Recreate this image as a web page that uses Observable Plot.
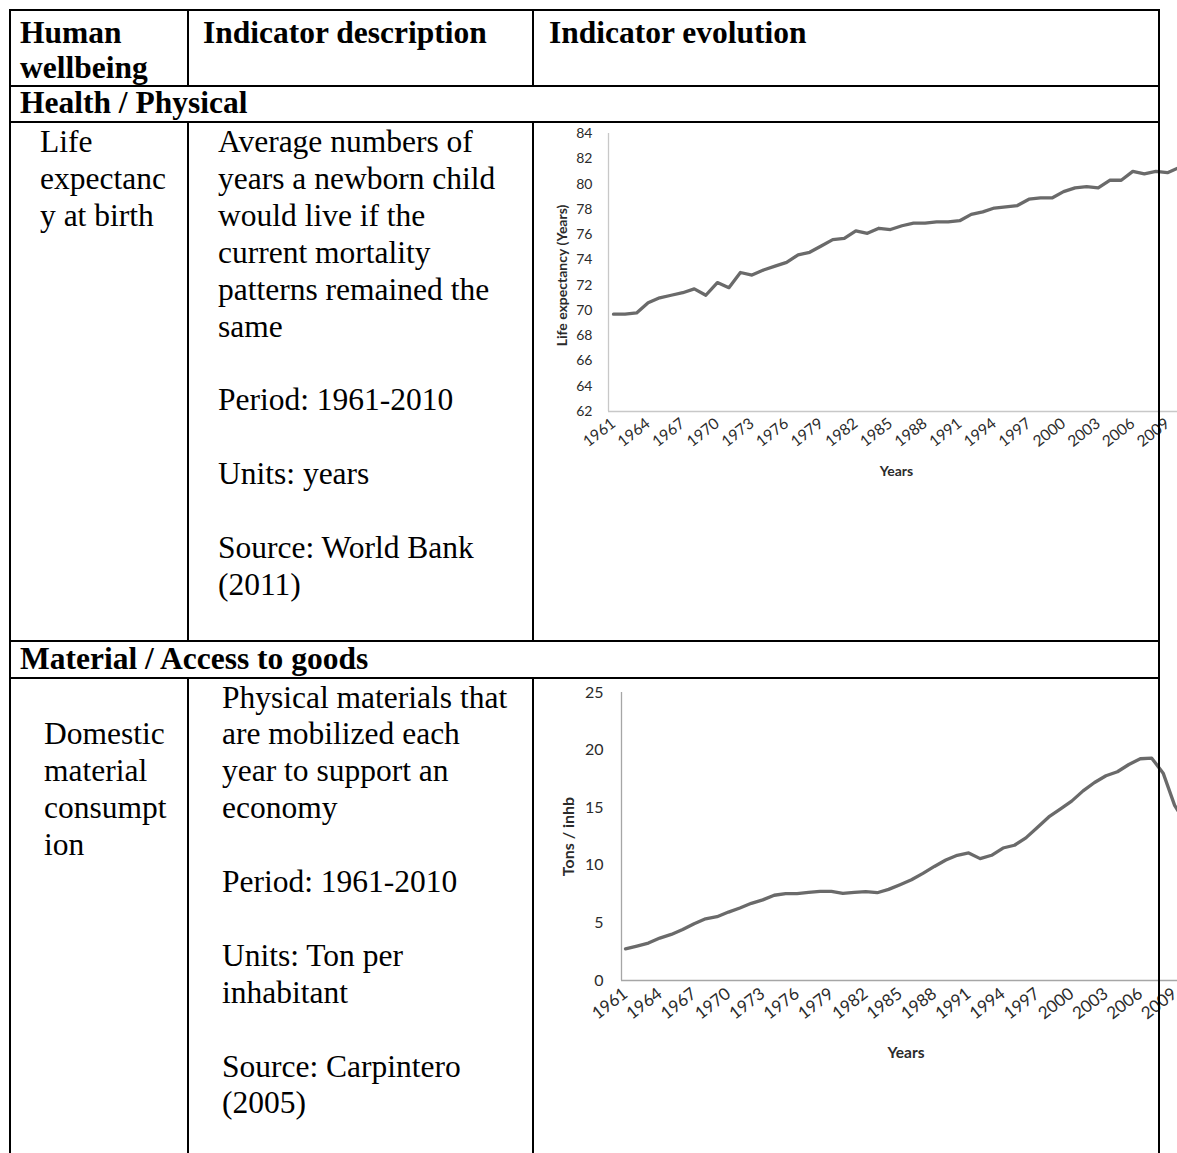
<!DOCTYPE html>
<html><head><meta charset="utf-8">
<script src="https://cdn.jsdelivr.net/npm/d3@7"></script>
<script src="https://cdn.jsdelivr.net/npm/@observablehq/plot@0.6"></script>
<style>
html,body{margin:0;padding:0;width:1177px;height:1153px;overflow:hidden;background:#fff;}
#page{position:relative;width:1177px;height:1153px;overflow:hidden;}
.t{position:absolute;font-family:"Liberation Serif","Times New Roman",serif;font-size:31.5px;color:#000;white-space:pre;line-height:36.9px;z-index:1;}
.b{font-weight:bold;}
.hl{position:absolute;background:#000;height:2px;z-index:3;}
.vl{position:absolute;background:#000;width:2px;z-index:3;}
.chart{position:absolute;z-index:2;}
</style></head>
<body><div id="page"></div>
<script>
// ---- data ----
const years = [1961,1962,1963,1964,1965,1966,1967,1968,1969,1970,1971,1972,1973,1974,1975,1976,1977,1978,1979,1980,1981,1982,1983,1984,1985,1986,1987,1988,1989,1990,1991,1992,1993,1994,1995,1996,1997,1998,1999,2000,2001,2002,2003,2004,2005,2006,2007,2008,2009,2010];
const lifeExpectancy = [69.7,69.7,69.8,70.6,71.0,71.2,71.4,71.7,71.2,72.2,71.8,73.0,72.8,73.2,73.5,73.8,74.4,74.6,75.1,75.6,75.7,76.3,76.1,76.5,76.4,76.7,76.9,76.9,77.0,77.0,77.1,77.6,77.8,78.1,78.2,78.3,78.8,78.9,78.9,79.4,79.7,79.8,79.7,80.3,80.3,81.0,80.8,81.0,80.9,81.3];
const materialConsumption = [2.75,2.99,3.25,3.68,4.0,4.43,4.93,5.36,5.54,5.94,6.29,6.7,7.0,7.4,7.54,7.54,7.65,7.74,7.74,7.57,7.65,7.71,7.62,7.91,8.32,8.75,9.3,9.9,10.46,10.87,11.07,10.58,10.87,11.5,11.74,12.38,13.28,14.2,14.87,15.57,16.46,17.19,17.77,18.12,18.75,19.25,19.3,18.0,15.2,13.6];
const yearTickLabels = [1961,1964,1967,1970,1973,1976,1979,1982,1985,1988,1991,1994,1997,2000,2003,2006,2009];
const lifeTicks = [62,64,66,68,70,72,74,76,78,80,82,84];
const materialTicks = [0,5,10,15,20,25];

const headerCols = ["Human\nwellbeing", "Indicator description", "Indicator evolution"];
const sections = ["Health / Physical", "Material / Access to goods"];
const indicatorNames = ["Life\nexpectanc\ny at birth", "\nDomestic\nmaterial\nconsumpt\nion"];
const indicatorDescriptions = [
  "Average numbers of\nyears a newborn child\nwould live if the\ncurrent mortality\npatterns remained the\nsame\n\nPeriod: 1961-2010\n\nUnits: years\n\nSource: World Bank\n(2011)",
  "Physical materials that\nare mobilized each\nyear to support an\neconomy\n\nPeriod: 1961-2010\n\nUnits: Ton per\ninhabitant\n\nSource: Carpintero\n(2005)"
];
const axisTitles = {life: "Life expectancy (Years)", material: "Tons / inhb", x: "Years"};

// ---- layout helpers ----
const page = document.getElementById("page");
function addText(txt, x, top, bold, lh) {
  const d = document.createElement("div");
  d.className = "t" + (bold ? " b" : "");
  d.style.left = x + "px"; d.style.top = top + "px";
  if (lh) d.style.lineHeight = lh + "px";
  d.textContent = txt;
  page.appendChild(d);
}
function hline(y, x1, x2) {
  const d = document.createElement("div"); d.className = "hl";
  d.style.top = y + "px"; d.style.left = x1 + "px"; d.style.width = (x2 - x1) + "px";
  page.appendChild(d);
}
function vline(x, y1, y2) {
  const d = document.createElement("div"); d.className = "vl";
  d.style.left = x + "px"; d.style.top = y1 + "px"; d.style.height = (y2 - y1) + "px";
  page.appendChild(d);
}

// table grid
const L = 9, C1 = 187, C2 = 532, R = 1158;
[9, 85, 121, 640, 677].forEach(y => hline(y, L, R + 2));
vline(L, 9, 1153); vline(R, 9, 1153);
[[9, 86], [121, 641], [677, 1153]].forEach(([a, b]) => { vline(C1, a, b); vline(C2, a, b); });

// header texts
addText(headerCols[0], 20, 15, true, 35);
addText(headerCols[1], 203, 15, true, 35);
addText(headerCols[2], 549, 15, true, 35);
addText(sections[0], 20, 85, true);
addText(sections[1], 20, 641, true);
addText(indicatorNames[0], 40, 124, false);
addText(indicatorDescriptions[0], 218, 124, false);
addText(indicatorNames[1], 44, 679.5, false);
addText(indicatorDescriptions[1], 222, 679.5, false);

// ---- charts ----
const lifeData = years.map((y, i) => ({year: y, value: lifeExpectancy[i]}));
const matData = years.map((y, i) => ({year: y, value: materialConsumption[i]}));
const fontFam = "Lato, 'Open Sans', sans-serif";
const lineGrey = "#6a6a6a";
const labelColor = "#2b2b2b";

function makeChart(o) {
  const p = Plot.plot({
    width: o.width, height: o.height,
    marginLeft: o.ml, marginTop: o.mt, marginBottom: o.mb, marginRight: 0,
    x: {domain: [years[0], years[years.length - 1]], range: [o.x0, o.x0 + 49 * o.step]},
    y: {domain: o.ydomain, range: [o.height - o.mb, o.mt]},
    style: {background: "transparent", fontFamily: fontFam, overflow: "visible", maxWidth: "none", color: labelColor},
    marks: [
      Plot.ruleX([o.axisYear], {y1: o.ydomain[0], y2: o.ydomain[1], stroke: o.axisGrey, strokeWidth: 1.3}),
      Plot.ruleY([o.ydomain[0]], {x1: o.axisYear, x2: 2011, stroke: o.axisGrey, strokeWidth: 1.3}),
      Plot.axisY({ticks: o.yticks, tickSize: 0, tickPadding: o.ypad, fontSize: o.yfont, label: null, anchor: "left", fill: labelColor}),
      Plot.axisX({ticks: yearTickLabels, tickSize: 0, tickRotate: -38, tickFormat: d => String(d), fontSize: o.xfont, tickPadding: o.xpad, label: null, fill: labelColor}),
      Plot.line(o.data, {x: "year", y: "value", stroke: lineGrey, strokeWidth: 3.3, strokeLinejoin: "round", strokeLinecap: "round"}),
      Plot.text([axisTitles.x], {frameAnchor: "bottom", dy: o.xtitleDy, dx: o.xtitleDx, fontSize: o.xtitleFont, fontWeight: "bold", fill: labelColor}),
      Plot.text([o.ytitle], {frameAnchor: "left", textAnchor: "middle", rotate: -90, dx: o.ytitleDx, dy: o.ytitleDy, fontSize: o.ytitleFont, fontWeight: "bold", fill: labelColor})
    ]
  });
  p.classList.add("chart");
  p.style.left = o.left + "px"; p.style.top = o.top + "px";
  page.appendChild(p);
}

makeChart({
  left: 540, top: 122, width: 650, height: 370, ml: 68, mt: 11, mb: 81,
  x0: 73, step: 11.54, axisYear: 1960.567, ydomain: [62, 84], yticks: lifeTicks, axisGrey: "#c8c8c8",
  ypad: 16, yfont: 14, xfont: 15.5, xpad: 10, data: lifeData,
  xtitleDy: 64, xtitleDx: -3, xtitleFont: 14, ytitle: axisTitles.life, ytitleDx: -46, ytitleDy: 3, ytitleFont: 14
});
makeChart({
  left: 540, top: 678, width: 650, height: 400, ml: 81, mt: 14, mb: 98,
  x0: 85, step: 11.44, axisYear: 1960.65, ydomain: [0, 25], yticks: materialTicks, axisGrey: "#a6a6a6",
  ypad: 18, yfont: 16, xfont: 17, xpad: 11, data: matData,
  xtitleDy: 77, xtitleDx: 0, xtitleFont: 15.5, ytitle: axisTitles.material, ytitleDx: -53, ytitleDy: 0, ytitleFont: 16
});
</script>
</body></html>
